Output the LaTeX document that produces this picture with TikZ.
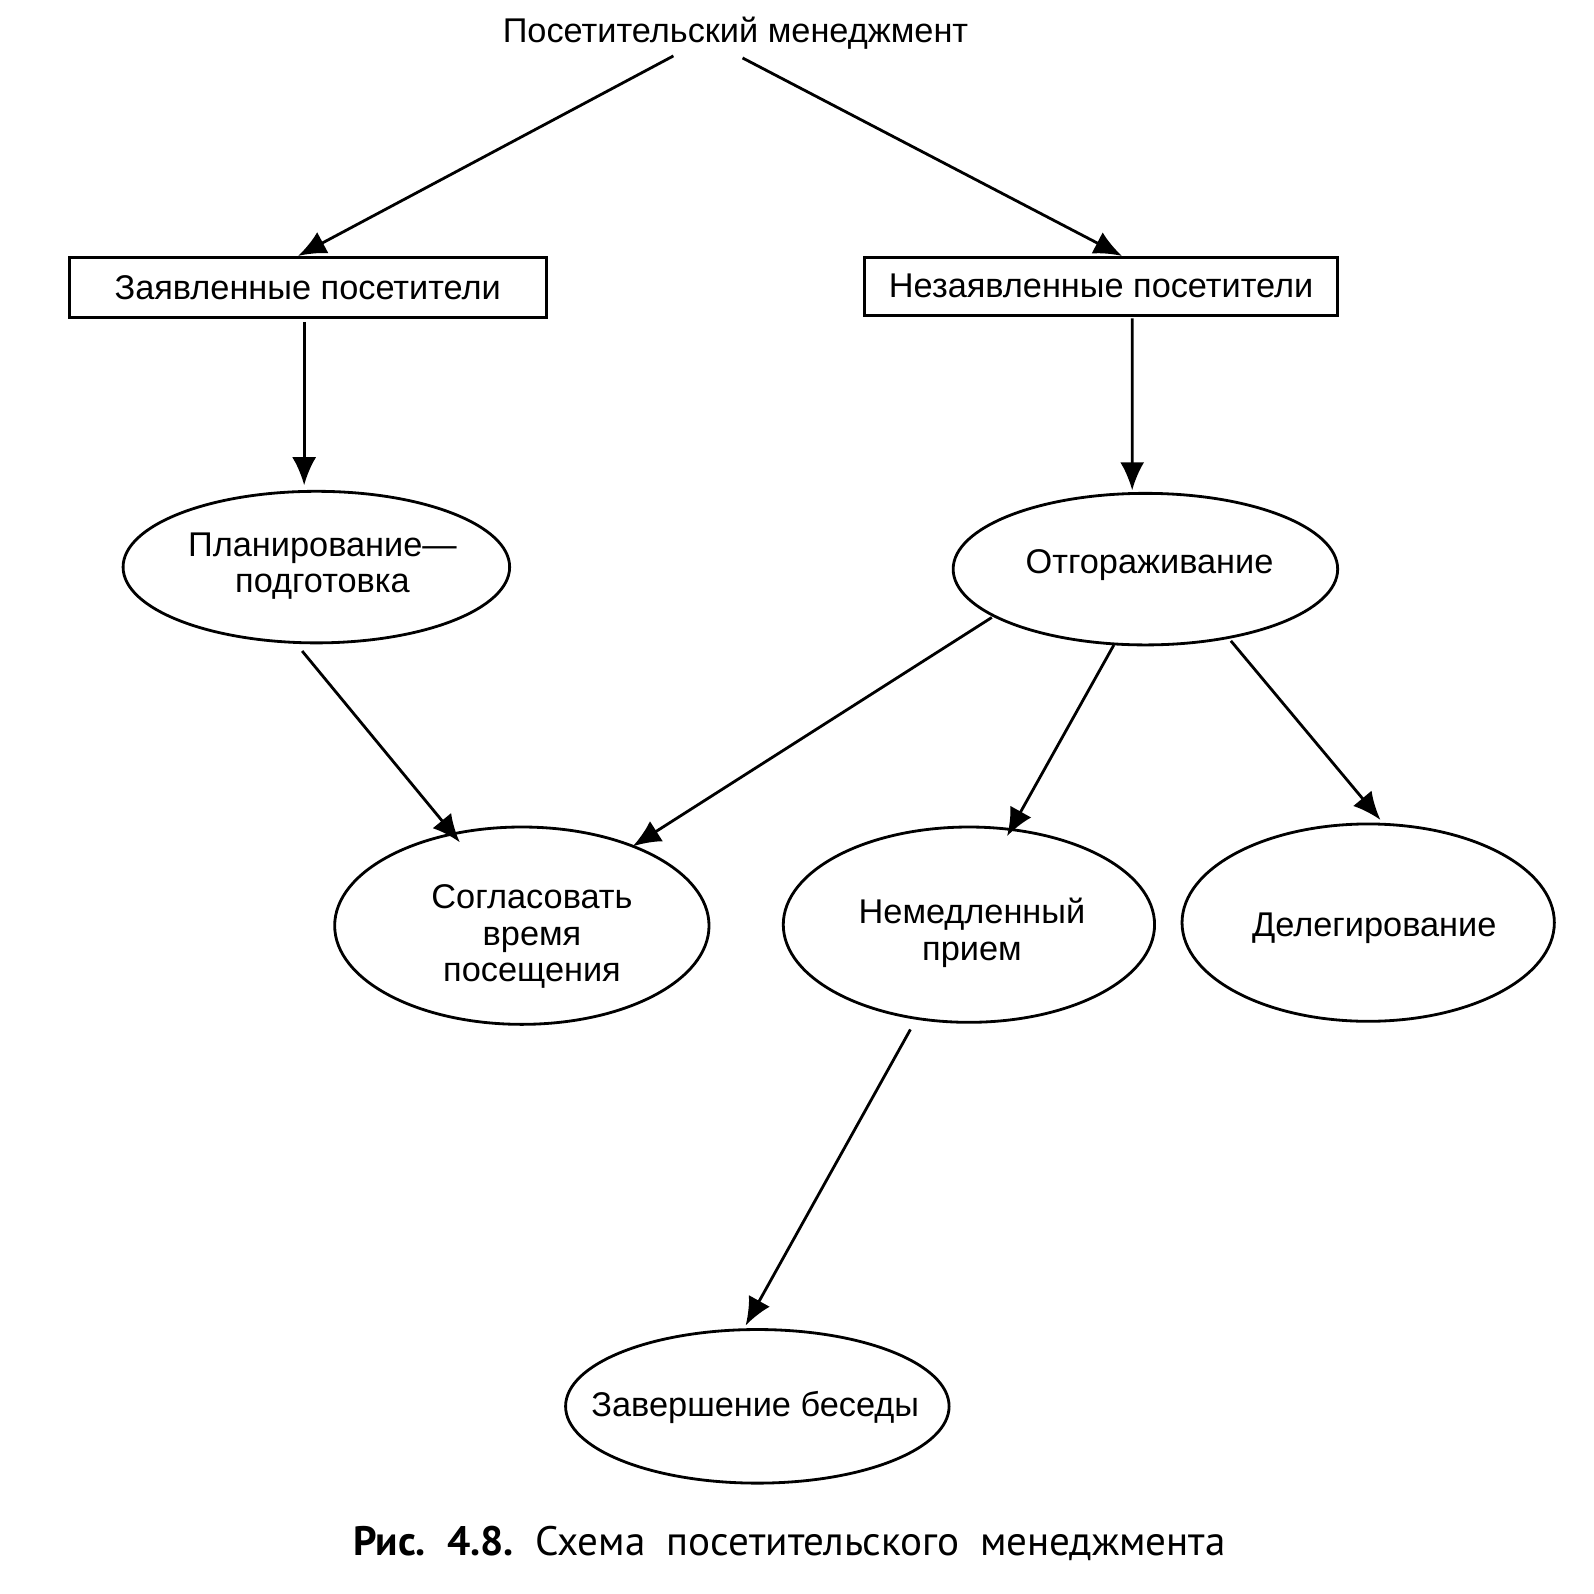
\documentclass[tikz,border=0pt]{standalone}
\usepackage{fontspec}
\setmainfont{Liberation Sans}
\newfontfamily\capfont{PT Sans}
\usetikzlibrary{shapes.geometric,arrows.meta,calc}
\def\px{0.010172cm}
\newdimen\pxd \pxd=0.010172cm
\newcommand\ctext[3]{\raisebox{\dimexpr-#2\pxd-8.6\pxd\relax}[0pt][0pt]{\makebox[0pt]{\hspace*{#1\pxd}\hspace*{#1\pxd}\begin{tabular}{@{}c@{}}#3\end{tabular}}}}
\tikzset{
  lbl/.style={font=\fontsize{9.77}{10.45}\selectfont, align=center},
  boxnode/.style={lbl, draw, line width=0.8pt, inner sep=0pt},
  ell/.style={lbl, draw, ellipse, line width=0.8pt, inner sep=0pt},
  arr/.style={line width=0.8pt, -{Latex[length=0.28cm,width=0.24cm]}},
}
\begin{document}
\begin{tikzpicture}[x=\px,y=-\px]
\useasboundingbox (0,0) rectangle (1566,1567);
\node[lbl] (T) at (723,33) {Посетительский менеджмент};
\node[boxnode, minimum width={469*\px}, minimum height={59*\px}] (b1) at (302.5,282.5) {Заявленные посетители};
\node[boxnode, minimum width={465*\px}, minimum height={57*\px}] (b2) at (1082.5,281.5) {Незаявленные посетители};
\node[ell, minimum width={380*\px}, minimum height={149*\px}] (pl) at (311,557.5) {\ctext{6}{0}{Планирование—\\подготовка}};
\node[ell, minimum width={378*\px}, minimum height={149*\px}] (ot) at (1126,559.5) {\ctext{4}{-3}{Отгораживание}};
\node[ell, minimum width={368*\px}, minimum height={194*\px}] (sg) at (513,910) {\ctext{10}{12}{Согласовать\\время\\посещения}};
\node[ell, minimum width={365*\px}, minimum height={192*\px}] (nm) at (952.5,909) {\ctext{3}{10}{Немедленный\\прием}};
\node[ell, minimum width={366*\px}, minimum height={194*\px}] (dl) at (1345,907) {\ctext{6}{6}{Делегирование}};
\node[ell, minimum width={377*\px}, minimum height={151*\px}] (zb) at (744.5,1382.5) {\ctext{-2}{3}{Завершение беседы}};
\node[anchor=base, inner sep=0pt, font=\capfont\fontsize{11.7}{13}\selectfont] (cap) at (776,1529) {\textbf{Рис.}\hspace{6pt}\textbf{4.8.}\hspace{6pt}Схема\hspace{6pt}посетительского\hspace{6pt}менеджмента};

\draw[arr] ($(T)+(-61,22)$) -- ($(b1.north)+(-9.5,0)$);
\draw[arr] ($(T)+(7,24)$) -- ($(b2.north)+(20.5,0)$);
\draw[arr] ($(b1.south)+(-3.5,3)$) -- ($(pl)+(-12,-80.5)$);
\draw[arr] ($(b2.south)+(30.5,1.5)$) -- ($(ot)+(-13,-77.5)$);
\draw[arr] ($(pl)+(-14,82.5)$) -- ($(sg)+(-61,-82)$);
\draw[arr] ($(ot)+(-151,47.5)$) -- ($(sg)+(109,-78)$);
\draw[arr] ($(ot)+(-31,74.5)$) -- ($(nm)+(37.5,-87)$);
\draw[arr] ($(ot)+(84,70.5)$) -- ($(dl)+(12,-101)$);
\draw[arr] ($(nm)+(-57.5,103)$) -- ($(zb)+(-11.5,-79.5)$);
\end{tikzpicture}
\end{document}
